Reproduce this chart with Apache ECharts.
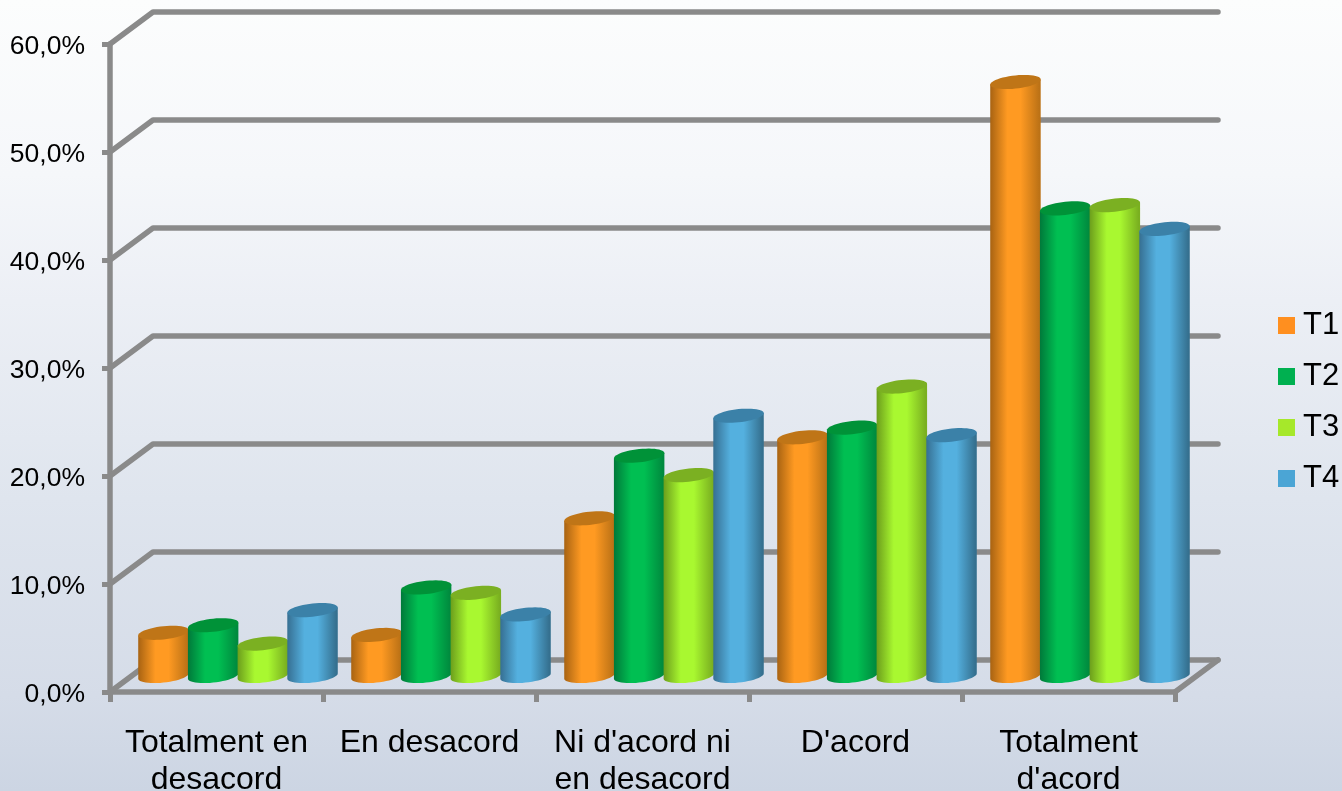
<!DOCTYPE html>
<html><head><meta charset="utf-8">
<style>html,body{margin:0;padding:0;overflow:hidden}#c{width:1342px;height:791px}</style>
<script src="https://cdn.jsdelivr.net/npm/echarts@6/dist/echarts.min.js"></script>
</head><body><div id="c"></div>
<script>
const categories = ['Totalment en\ndesacord','En desacord',"Ni d'acord ni\nen desacord","D'acord","Totalment\nd'acord"];
const T1 = [4.0, 3.8, 14.6, 22.1, 55.0];
const T2 = [4.7, 8.2, 20.4, 23.0, 43.3];
const T3 = [3.0, 7.7, 18.6, 26.8, 43.6];
const T4 = [6.1, 5.7, 24.1, 22.3, 41.4];
const yTicks = [0, 10, 20, 30, 40, 50, 60];
const seriesNames = ['T1','T2','T3','T4'];
const legendColors = ['#FF8F1F','#00B050','#A6E82A','#4BA5D5'];
const capColors = ['#BF7517','#009238','#7BB022','#3B81A8'];
const edgeColors = [['#A86312','#BC7216'],['#00793A','#008A3E'],['#6C9E1C','#7AB020'],['#366F92','#35708F']];
const lightColors = ['#FF9A22','#00BF52','#A9F830','#54B0DF'];
const gridColor = '#8A8A8A';
const FONT = '"Liberation Sans", Arial, sans-serif';
const DEPTH_X = 43, DEPTH_Y = 32;

function wall(params, api) {
  const y = api.coord([0, api.value(1)])[1];
  const cs = params.coordSys;
  const x0 = cs.x, x1 = cs.x + cs.width;
  const lineStyle = {stroke: gridColor, lineWidth: 5.5, fill: null, lineCap: 'round', lineJoin: 'round'};
  const children = [{type:'polyline', shape:{points:[[x0,y],[x0+DEPTH_X,y-DEPTH_Y],[x1+DEPTH_X,y-DEPTH_Y]]}, style:lineStyle}];
  if (api.value(1) === 0) {
    children.push({type:'polyline', shape:{points:[[x1,y],[x1+DEPTH_X,y-DEPTH_Y]]}, style:lineStyle});
  }
  return {type:'group', children};
}

function cylinder(idx) {
  return function (params, api) {
    const band = api.size([1, 0])[0];
    const pitch = band * 0.2333, rx = band * 0.1185, ry = 6.6, skew = 2.6;
    const top = api.coord([api.value(0), api.value(1)]);
    const base = api.coord([api.value(0), 0]);
    const cx = top[0] + DEPTH_X / 2 + (idx - 1.5) * pitch;
    const yt = top[1] - DEPTH_Y / 2, yb = base[1] - DEPTH_Y / 2;
    const N = 48, cap = [], body = [];
    for (let i = 0; i < N; i++) {
      const t = i / N * 2 * Math.PI;
      cap.push([cx + rx * Math.cos(t), yt + ry * Math.sin(t) - skew * Math.cos(t)]);
    }
    for (let i = 0; i <= N / 2; i++) {
      const t = i / (N / 2) * Math.PI;
      body.push([cx + rx * Math.cos(t), yb + ry * Math.sin(t) - skew * Math.cos(t)]);
    }
    body.push([cx - rx, yt + skew], [cx + rx, yt - skew]);
    const fill = new echarts.graphic.LinearGradient(0, 0, 1, 0, [
      {offset: 0, color: edgeColors[idx][0]},
      {offset: 0.34, color: lightColors[idx]},
      {offset: 0.6, color: lightColors[idx]},
      {offset: 0.97, color: edgeColors[idx][1]},
      {offset: 1, color: edgeColors[idx][1]}
    ]);
    return {type:'group', children:[
      {type:'polygon', shape:{points:body}, style:{fill}},
      {type:'polygon', shape:{points:cap}, style:{fill:capColors[idx]}}
    ]};
  };
}

const bars = [T1, T2, T3, T4].map((vals, idx) => ({
  type:'custom', name:seriesNames[idx], renderItem:cylinder(idx), clip:false,
  itemStyle:{color:legendColors[idx]},
  encode:{x:0, y:1},
  data:vals.map((v, i) => [i, v])
}));

const chart = echarts.init(document.getElementById('c'));
chart.setOption({
  animation:false,
  backgroundColor:new echarts.graphic.LinearGradient(0,0,0,1,[
    {offset:0,color:'#FCFDFD'},{offset:0.22,color:'#F5F7FA'},{offset:0.38,color:'#ECEFF5'},
    {offset:0.63,color:'#DFE5EE'},{offset:0.88,color:'#D5DCE8'},{offset:1,color:'#CCD5E3'}]),
  grid:{left:110, right:167, top:44, bottom:99, containLabel:false, outerBoundsMode:'none'},
  xAxis:{type:'category', data:categories, boundaryGap:true,
    axisLine:{show:true, lineStyle:{color:gridColor,width:5.5}},
    axisTick:{show:true, alignWithLabel:false, length:10, lineStyle:{color:gridColor,width:5}},
    axisLabel:{interval:0, color:'#000', fontFamily:FONT, fontSize:32, lineHeight:37, margin:33, hideOverlap:false}},
  yAxis:{type:'value', min:0, max:60, interval:10,
    splitLine:{show:false},
    axisLine:{show:true, lineStyle:{color:gridColor,width:5.5}},
    axisTick:{show:true, length:8, lineStyle:{color:gridColor,width:5}},
    axisLabel:{color:'#000', fontFamily:FONT, fontSize:26.5, margin:25,
      rich:{a:{color:'#000', fontFamily:FONT, fontSize:26.5, padding:[6,0,0,0]}},
      formatter:v => '{a|' + v.toFixed(1).replace('.', ',') + '%}'}},
  legend:{data:seriesNames, orient:'vertical', left:1273, top:305, itemWidth:17, itemHeight:17, itemGap:20,
    icon:'rect', selectedMode:false,
    textStyle:{color:'#000', fontFamily:FONT, fontSize:31, padding:[4,0,0,3]}},
  series:[{type:'custom', name:'wall', renderItem:wall, silent:true, clip:false, encode:{x:0,y:1},
    data:yTicks.map(v => [0, v])}].concat(bars)
});
</script></body></html>
